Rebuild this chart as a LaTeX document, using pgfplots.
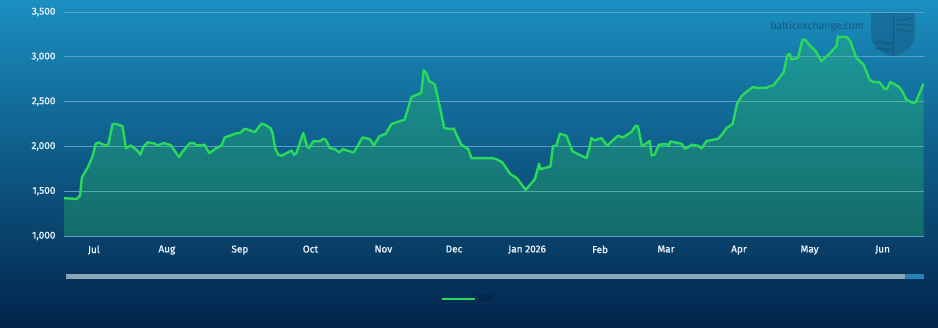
\documentclass[border=0pt]{standalone}
\usepackage{pgfplots}
\pgfplotsset{compat=1.18}
\usepackage{pgfplotstable}
\usepackage{fontspec}
\setmainfont{Fira Sans}
\newfontfamily\tickfont{Fira Sans}[FakeBold=1.2]
\definecolor{bgtop}{RGB}{26,143,192}
\definecolor{bgbot}{RGB}{2,36,75}
\definecolor{bdi}{RGB}{43,217,90}
\definecolor{bdifill}{RGB}{45,205,100}
\definecolor{gridc}{RGB}{90,160,200}
\definecolor{ticklab}{RGB}{232,242,250}
\definecolor{wm}{RGB}{22,88,128}
\definecolor{scrollc}{RGB}{140,165,185}
\definecolor{scrollb}{RGB}{40,130,185}
\definecolor{legtext}{RGB}{4,28,60}

\pgfplotstableread{
x y
-12.7 1422
-7.3 1414
-5.9 1451
-5.1 1653
-2.4 1776
-0.6 1888
0.8 2030
2 2045
5.1 2007
6.2 2030
7.9 2250
9.6 2250
12.2 2224
13.6 1978
15.6 2011
18.4 1955
19.8 1907
20.9 1993
22.9 2045
25.5 2034
26.9 2011
29.7 2037
32.6 2015
36.2 1880
37.4 1933
40.8 2037
42.5 2037
43.6 2011
47 2018
49 1925
51.4 1970
54.2 2011
55.6 2100
57.7 2119
60.6 2149
62 2149
64.1 2198
68.4 2160
71.2 2254
72.6 2242
75 2205
75.9 2149
77 1981
78.3 1907
79.7 1895
84 1955
85 1907
86 1925
88.9 2149
90.6 2000
91.4 1981
93.1 2056
96 2058
97.4 2086
98.5 2075
100.2 1981
102.3 1970
104.2 1933
105.8 1970
108.7 1944
110.4 1933
114.1 2100
117.2 2082
118.9 2011
121.2 2112
124 2142
126.4 2250
128.5 2269
132 2298
134.9 2552
138.4 2589
139.1 2604
140.1 2851
141.3 2813
142.4 2727
143.4 2716
144.8 2690
146.9 2448
148.8 2205
151.2 2194
152.9 2198
154 2130
156.1 2019
159 1970
160.4 1869
163.9 1869
168.9 1869
171 1858
173.5 1821
176.9 1690
179.7 1645
183.4 1515
187.3 1634
189.1 1806
189.7 1746
193.9 1776
195 2000
196.5 2011
197.9 2142
200.7 2119
203.3 1944
205.6 1914
209.2 1869
210.3 1963
211.3 2093
212.7 2067
215.6 2093
218 2007
222.6 2119
224.7 2100
228.3 2160
230.1 2231
231.1 2224
232.8 2000
236.1 2060
236.9 1899
238.2 1907
240 2019
243.2 2026
244 2007
244.9 2056
249.6 2030
251.1 1974
254.2 2019
256.6 2007
258.1 1978
260.2 2060
265.2 2086
267.3 2149
268.7 2205
271.3 2250
273.2 2477
275.1 2560
277.5 2615
280 2664
281.5 2653
285.7 2653
287.1 2672
288.5 2679
290 2727
293 2828
294.5 3015
295.6 3033
296.3 2970
299.1 2989
301 3194
302.3 3187
304 3127
306.6 3063
309 2951
312.5 3037
315.4 3119
316 3224
319.8 3220
321.3 3175
323.8 2989
326.9 2914
329.5 2746
330.9 2720
333.8 2716
335.9 2642
336.9 2642
338.3 2720
342 2664
343.4 2615
345.1 2522
347.9 2485
349.1 2493
352.4 2701
}\bdidata

\begin{document}
\begin{tikzpicture}
\useasboundingbox (0pt,0pt) rectangle (938pt,327pt);
\shade[top color=bgtop, bottom color=bgbot] (0pt,0pt) rectangle (938pt,327pt);
% watermark
\node[anchor=east, inner sep=0pt, font=\fontsize{10.5}{12}\selectfont, text=wm] at (864pt,300pt) {balticexchange.com};
\begin{scope}[draw=wm, line width=1pt]
\fill[wm, opacity=0.5] (871pt,314pt) -- (915pt,314pt) -- (915pt,292pt) .. controls (915pt,280pt) and (902pt,273pt) .. (893pt,270pt) .. controls (884pt,273pt) and (871pt,280pt) .. (871pt,292pt) -- cycle;
\draw (893pt,314pt) -- (893pt,270pt);
\draw[line width=1.5pt] (874pt,284pt) .. controls (880pt,287pt) and (886pt,281pt) .. (892pt,284pt);
\draw[line width=1.5pt] (876pt,278pt) .. controls (881pt,281pt) and (886pt,275pt) .. (892pt,278pt);
\draw[line width=1pt] (897pt,306pt) -- (913pt,309pt) (897pt,302pt) -- (913pt,302pt) (897pt,298pt) -- (913pt,295pt);
\end{scope}
% scrollbar
\fill[scrollc] (66pt,48pt) rectangle (905pt,53pt);
\fill[scrollb] (905pt,48pt) rectangle (924pt,53pt);
\begin{axis}[
  at={(64pt,91pt)}, anchor=south west, scale only axis,
  width=860pt, height=224pt,
  xmin=-12.7, xmax=352.6, ymin=1000, ymax=3500,
  ytick={1000,1500,2000,2500,3000,3500},
  xtick={0,31,62,92,123,153,184,215,243,274,304,335},
  xticklabels={Jul,Aug,Sep,Oct,Nov,Dec,Jan 2026,Feb,Mar,Apr,May,Jun},
  ymajorgrids, grid style={gridc, line width=0.8pt},
  axis line style={draw=none}, major tick length=0pt,
  tick label style={text=ticklab, font=\tickfont\fontsize{10}{12}\selectfont},
  yticklabel style={xshift=-5pt},
  xticklabel style={yshift=-6pt},
  /pgf/number format/.cd, 1000 sep={,}, assume math mode=true,
  /pgfplots/.cd,
  legend style={at={(0.47,-0.281)}, anchor=center, draw=none, fill=none,
    text=legtext, font=\fontsize{10}{12}\selectfont},
  legend image code/.code={\draw[#1] (0pt,0pt) -- (33pt,0pt);},
]
\addplot[draw=none, fill=bdifill, fill opacity=0.3, forget plot] table {\bdidata} \closedcycle;
\addplot[bdi, line width=2.4pt, line join=round] table {\bdidata};
\addlegendentry{BDI}
\end{axis}
\end{tikzpicture}
\end{document}
